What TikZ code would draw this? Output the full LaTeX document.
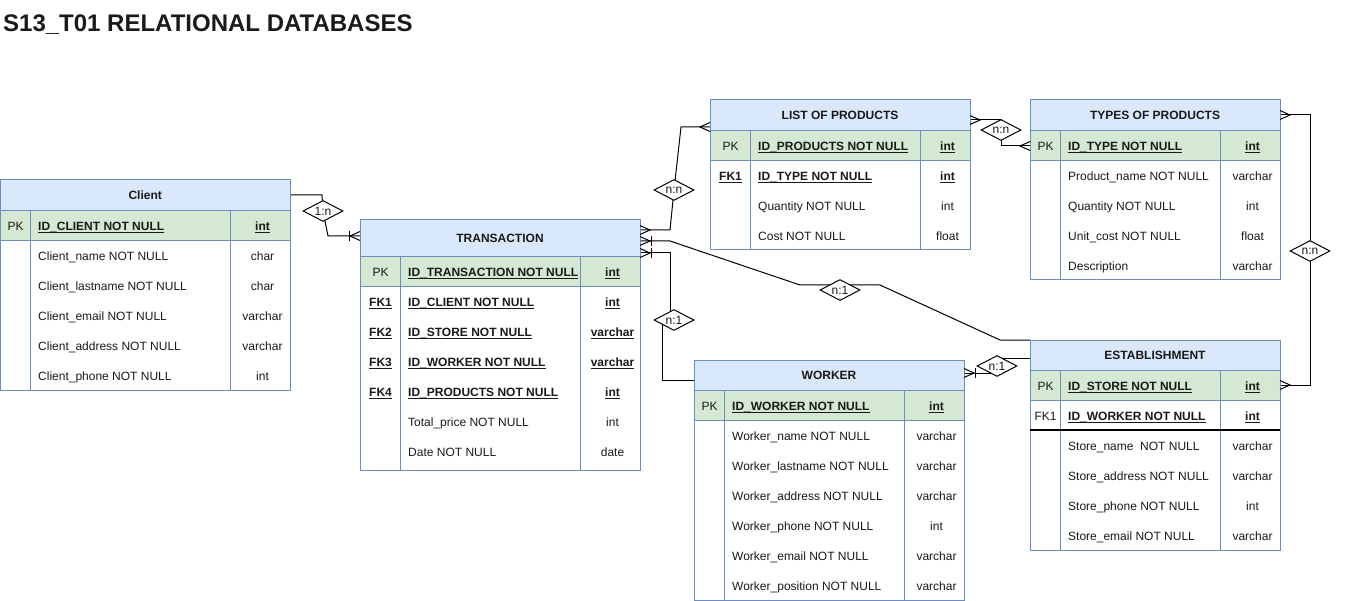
\documentclass[tikz,border=0pt]{standalone}
\usepackage{fontspec}
\setmainfont{Liberation Sans}
\usetikzlibrary{shapes.geometric}

\definecolor{hdfill}{HTML}{DAE8FC}
\definecolor{pkfill}{HTML}{D5E8D4}
\definecolor{tabline}{HTML}{6C8EBF}
\definecolor{txt}{HTML}{1A1A1A}

% underlined text with the rule just below the baseline
\newcommand\ulx[1]{\setbox0\hbox{#1}\rlap{\rule[-3pt]{\wd0}{1pt}}\box0}
\newcommand\keyf[1]{\ulx{\bfseries #1}}

% entity table: #1 name, #2..#5 column edges, #6 top, #7 header bottom, #8 bottom, #9 title
\newcommand\ertable[9]{%
  \def\cA{#2}\def\cB{#3}\def\cC{#4}\def\cD{#5}%
  \fill[hdfill] (#2,#6) rectangle (#5,#7);
  \fill[pkfill] (#2,#7) rectangle (#5,#7+30);
  \draw[tabline] (#2,#7) -- (#5,#7);
  \draw[tabline] (#2,#7+30) -- (#5,#7+30);
  \draw[tabline] (#3,#7) -- (#3,#8) (#4,#7) -- (#4,#8);
  \node[tabframe, minimum width={(#5-#2)*1pt}, minimum height={(#8-#6)*1pt}]
    (#1) at ({(#2+#5)/2},{(#6+#8)/2}) {};
  \node[tabtitle] (#1-title) at ({(#2+#5)/2},{(#6+#7)/2+0.5}) {#9};
}
% one row of a table: #1 name prefix, #2 row top, #3 key, #4 field, #5 type
\newcommand\errow[5]{%
  \node[cell, anchor=base] (#1-k) at ({(\cA+\cB)/2+0.5},#2+20.2) {#3};
  \node[cell, anchor=base west] (#1-n) at (\cB+8,#2+20.2) {#4};
  \node[cell, anchor=base] (#1-t) at ({(\cC+\cD)/2+2.5},#2+20.2) {#5};
}

\tikzset{
  cell/.style={inner sep=0pt, text=txt, font=\fontsize{12}{14}\selectfont},
  tabtitle/.style={cell, font=\fontsize{12}{14}\selectfont\bfseries},
  tabframe/.style={draw=tabline, line width=1pt, inner sep=0pt},
  conn/.style={draw=black, line width=1pt},
  rel/.style={diamond, shape aspect=2, draw=black, line width=1pt, fill=white,
    minimum width=40pt, minimum height=21pt, inner sep=0pt, text=txt,
    font=\fontsize{12}{14}\selectfont},
  crow/.pic={\draw[conn] (0,-4.5) -- (10,0) -- (0,4.5);},
  crowbar/.pic={\draw[conn] (0,-4.5) -- (10,0) -- (0,4.5); \draw[conn] (11,-5) -- (11,5);},
}

\begin{document}
\begin{tikzpicture}[x=1pt, y=-1pt]
\useasboundingbox (0,0) rectangle (1351,601);
\fill[white] (0,0) rectangle (1351,601);

\node[anchor=base west, inner sep=0pt, text=txt, font=\fontsize{24}{28}\selectfont\bfseries]
  (title) at (3,31.5) {S13\_T01 RELATIONAL DATABASES};

% connection points on the table edges
\coordinate (cl-p1) at (290,195);
\coordinate (tx-p1) at (360,236);
\coordinate (tx-p2) at (640,230);
\coordinate (tx-p3) at (640,241);
\coordinate (tx-p4) at (640,253);
\coordinate (lop-p1) at (710,127);
\coordinate (lop-p2) at (970,120);
\coordinate (typ-p1) at (1030,146);
\coordinate (typ-p2) at (1280,115);
\coordinate (est-p1) at (1030,340);
\coordinate (est-p2) at (1030,358);
\coordinate (est-p3) at (1280,385);
\coordinate (wk-p1) at (694,380);
\coordinate (wk-p2) at (964,373);

% relationship diamonds
\coordinate (d1c) at (323,211);
\coordinate (d2c) at (674,190);
\coordinate (d3c) at (840,290);
\coordinate (d4c) at (674,320);
\coordinate (d5c) at (997,366);
\coordinate (d6c) at (1001,130);
\coordinate (d7c) at (1310,251);

% connectors (the diamonds are drawn over them afterwards)
\draw[conn] (cl-p1) -- (322,195) -- (d1c) -- (328,236) -- (tx-p1);
\draw[conn] (tx-p2) -- (670,230) -- (d2c) -- (681,127) -- (lop-p1);
\draw[conn] (tx-p3) -- (670,241) -- (800,285) -- (880,285) -- (1000,340) -- (est-p1);
\draw[conn] (tx-p4) -- (670,253) -- (670,320) -- (662,320) -- (662,380) -- (wk-p1);
\draw[conn] (wk-p2) -- (997,373) -- (997,358) -- (est-p2);
\draw[conn] (lop-p2) -- (1001,120) -- (d6c) -- (1001,146) -- (typ-p1);
\draw[conn] (typ-p2) -- (1310,115) -- (d7c) -- (1310,385) -- (est-p3);

\node[rel] (d1) at (d1c) {1:n};
\node[rel] (d2) at (d2c) {n:n};
\node[rel] (d3) at (d3c) {n:1};
\node[rel] (d4) at (d4c) {n:1};
\node[rel] (d5) at (d5c) {n:1};
\node[rel] (d6) at (d6c) {n:n};
\node[rel] (d7) at (d7c) {n:n};

% Client
\ertable{client}{0.5}{30}{230}{290}{180}{210}{390}{Client}
\errow{cl-r0}{210}{PK}{\keyf{ID\_CLIENT NOT NULL}}{\keyf{int}}
\errow{cl-r1}{240}{}{Client\_name NOT NULL}{char}
\errow{cl-r2}{270}{}{Client\_lastname NOT NULL}{char}
\errow{cl-r3}{300}{}{Client\_email NOT NULL}{varchar}
\errow{cl-r4}{330}{}{Client\_address NOT NULL}{varchar}
\errow{cl-r5}{360}{}{Client\_phone NOT NULL}{int}

% TRANSACTION
\ertable{tx}{360}{400}{580}{640}{220}{256}{470}{TRANSACTION}
\errow{tx-r0}{256}{PK}{\keyf{ID\_TRANSACTION NOT NULL}}{\keyf{int}}
\errow{tx-r1}{286}{\keyf{FK1}}{\keyf{ID\_CLIENT NOT NULL}}{\keyf{int}}
\errow{tx-r2}{316}{\keyf{FK2}}{\keyf{ID\_STORE NOT NULL}}{\keyf{varchar}}
\errow{tx-r3}{346}{\keyf{FK3}}{\keyf{ID\_WORKER NOT NULL}}{\keyf{varchar}}
\errow{tx-r4}{376}{\keyf{FK4}}{\keyf{ID\_PRODUCTS NOT NULL}}{\keyf{int}}
\errow{tx-r5}{406}{}{Total\_price NOT NULL}{int}
\errow{tx-r6}{436}{}{Date NOT NULL}{date}

% LIST OF PRODUCTS
\ertable{lop}{710}{750}{920}{970}{100}{130}{250}{LIST OF PRODUCTS}
\errow{lop-r0}{130}{PK}{\keyf{ID\_PRODUCTS NOT NULL}}{\keyf{int}}
\errow{lop-r1}{160}{\keyf{FK1}}{\keyf{ID\_TYPE NOT NULL}}{\keyf{int}}
\errow{lop-r2}{190}{}{Quantity NOT NULL}{int}
\errow{lop-r3}{220}{}{Cost NOT NULL}{float}

% TYPES OF PRODUCTS
\ertable{typ}{1030}{1060}{1220}{1280}{100}{130}{280}{TYPES OF PRODUCTS}
\errow{typ-r0}{130}{PK}{\keyf{ID\_TYPE NOT NULL}}{\keyf{int}}
\errow{typ-r1}{160}{}{Product\_name NOT NULL}{varchar}
\errow{typ-r2}{190}{}{Quantity NOT NULL}{int}
\errow{typ-r3}{220}{}{Unit\_cost NOT NULL}{float}
\errow{typ-r4}{250}{}{Description}{varchar}

% WORKER
\ertable{wk}{694}{724}{904}{964}{360}{390}{600}{WORKER}
\errow{wk-r0}{390}{PK}{\keyf{ID\_WORKER NOT NULL}}{\keyf{int}}
\errow{wk-r1}{420}{}{Worker\_name NOT NULL}{varchar}
\errow{wk-r2}{450}{}{Worker\_lastname NOT NULL}{varchar}
\errow{wk-r3}{480}{}{Worker\_address NOT NULL}{varchar}
\errow{wk-r4}{510}{}{Worker\_phone NOT NULL}{int}
\errow{wk-r5}{540}{}{Worker\_email NOT NULL}{varchar}
\errow{wk-r6}{570}{}{Worker\_position NOT NULL}{varchar}

% ESTABLISHMENT
\ertable{est}{1030}{1060}{1220}{1280}{340}{370}{550}{ESTABLISHMENT}
\draw[black, line width=1.3pt] (1030,430) -- (1280,430);
\errow{est-r0}{370}{PK}{\keyf{ID\_STORE NOT NULL}}{\keyf{int}}
\errow{est-r1}{400}{FK1}{\keyf{ID\_WORKER NOT NULL}}{\keyf{int}}
\errow{est-r2}{430}{}{Store\_name~ NOT NULL}{varchar}
\errow{est-r3}{460}{}{Store\_address NOT NULL}{varchar}
\errow{est-r4}{490}{}{Store\_phone NOT NULL}{int}
\errow{est-r5}{520}{}{Store\_email NOT NULL}{varchar}

% cardinality marks at the table ends
\pic[rotate=180] at (tx-p1) {crowbar};
\pic at (tx-p2) {crow};
\pic at (tx-p3) {crowbar};
\pic at (tx-p4) {crowbar};
\pic[rotate=180] at (lop-p1) {crow};
\pic at (lop-p2) {crow};
\pic[rotate=180] at (typ-p1) {crow};
\pic at (typ-p2) {crow};
\pic at (est-p3) {crow};
\pic at (wk-p2) {crowbar};
\end{tikzpicture}
\end{document}
